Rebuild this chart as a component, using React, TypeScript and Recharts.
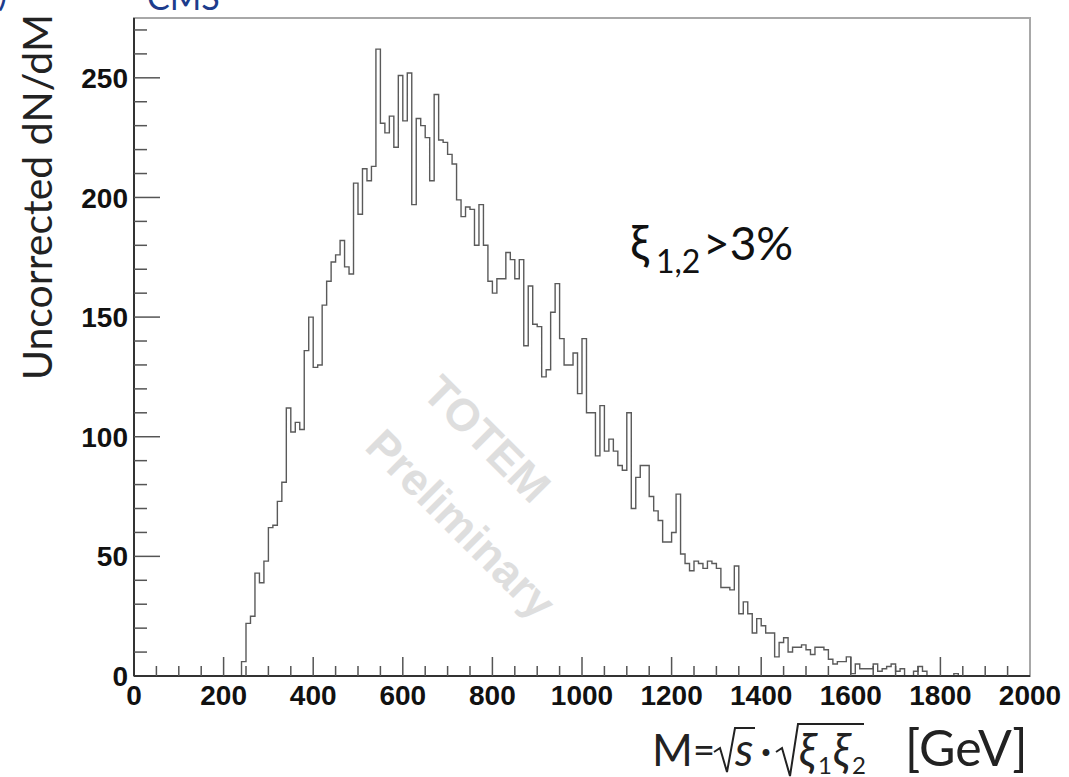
import { LineChart, Line, XAxis, YAxis, ReferenceArea } from 'recharts';

// Invariant-mass histogram, 10 GeV bins starting at 240 GeV
const BIN_START = 240;
const BIN_WIDTH = 10;
const counts = [
  6, 22, 25, 43, 39, 48, 62, 63, 73, 81,
  112, 102, 106, 103, 136, 150, 129, 130, 155, 165,
  173, 176, 182, 171, 168, 206, 193, 212, 207, 213,
  262, 231, 227, 234, 221, 251, 232, 252, 197, 233,
  230, 225, 207, 243, 224, 223, 218, 214, 199, 192,
  196, 195, 180, 197, 180, 165, 160, 166, 166, 177,
  174, 166, 174, 138, 163, 147, 146, 125, 128, 152,
  164, 141, 130, 130, 135, 118, 141, 110, 110, 92,
  113, 94, 99, 94, 88, 86, 110, 70, 83, 88,
  88, 75, 69, 65, 56, 56, 60, 76, 51, 47,
  44, 48, 47, 45, 48, 47, 45, 37, 37, 36,
  46, 26, 31, 26, 18, 24, 21, 18, 18, 8,
  14, 16, 10, 12, 12, 13, 11, 9, 12, 12,
  11, 7, 5, 6, 6, 8, 1, 5, 3, 3,
  3, 5, 2, 3, 4, 5, 2, 3, 0, 0,
  2, 4, 2, 0, 0, 0, 0, 0, 0, 1,
  0,
];

const X_MAX = 2000;
const Y_MAX = 275;
const xLabels = [0, 200, 400, 600, 800, 1000, 1200, 1400, 1600, 1800, 2000];
const yLabels = [0, 50, 100, 150, 200, 250];
const X_MINOR = 50;
const Y_MINOR = 10;

const xTicks: number[] = [];
for (let v = 0; v <= X_MAX; v += X_MINOR) xTicks.push(v);
const yTicks: number[] = [];
for (let v = 0; v < Y_MAX; v += Y_MINOR) yTicks.push(v);

// step outline: start on the axis, rise at the first bin, drop back at the end
const data = [
  { m: 0, n: 0 },
  ...counts.map((n, i) => ({ m: BIN_START + i * BIN_WIDTH, n })),
  { m: BIN_START + counts.length * BIN_WIDTH, n: 0 },
  { m: X_MAX, n: 0 },
];

const W = 1069;
const H = 777;
const Y_AXIS_W = 60;
const X_AXIS_H = 40;
const PLOT_LEFT = 134;
const PLOT_BOTTOM = 676;
const margin = { top: 18, right: 39, bottom: H - PLOT_BOTTOM - X_AXIS_H, left: PLOT_LEFT - Y_AXIS_W };

const labelFont = { fontFamily: 'Liberation Sans, Arial, sans-serif', fontWeight: 700, fontSize: 28, fill: '#111' };
const titleFont = 'Lato, "Open Sans", sans-serif';

function YTick(props: any) {
  const { y, payload } = props;
  const v = payload.value as number;
  const major = yLabels.includes(v);
  return (
    <g>
      {v > 0 && (
        <line x1={PLOT_LEFT} x2={PLOT_LEFT + (major ? 26 : 13)} y1={y} y2={y} stroke="#555" strokeWidth={1.5} />
      )}
      {major && (
        <text x={PLOT_LEFT - 6} y={y} dy="0.36em" textAnchor="end" {...labelFont}>
          {v}
        </text>
      )}
    </g>
  );
}

function XTick(props: any) {
  const { x, payload } = props;
  const v = payload.value as number;
  const major = xLabels.includes(v);
  return (
    <g>
      {v > 0 && v < X_MAX && (
        <line x1={x} x2={x} y1={PLOT_BOTTOM} y2={PLOT_BOTTOM - (major ? 19 : 10)} stroke="#555" strokeWidth={1.5} />
      )}
      {major && (
        <text x={x} y={PLOT_BOTTOM + 29} textAnchor="middle" {...labelFont}>
          {v}
        </text>
      )}
    </g>
  );
}

function Decorations() {
  return (
    <svg width={W} height={H} style={{ position: 'absolute', left: 0, top: 0 }}>
      {/* header remnants */}
      <text x={147} y={10} fontFamily={titleFont} fontSize={34} fill="#1d3c8c">CMS</text>
      <text x={-2} y={6} fontFamily={titleFont} fontSize={34} fill="#1d3c8c">)</text>

      {/* y title */}
      <text
        transform="translate(52,197) rotate(-90)"
        textAnchor="middle"
        fontFamily={titleFont}
        fontSize={41}
        fill="#222"
      >
        Uncorrected dN/dM
      </text>

      {/* watermark */}
      <g fontFamily="Liberation Sans, Arial, sans-serif" fontWeight={700} fontSize={45} fill="#dedede" textAnchor="middle">
        <text transform="translate(476,450) rotate(45)">TOTEM</text>
        <text transform="translate(450,535) rotate(45)">Preliminary</text>
      </g>

      {/* selection cut */}
      <g fontFamily={titleFont} fill="#111">
        <text x={630} y={260} fontSize={48}>ξ</text>
        <text x={656} y={273} fontSize={32}>1,2</text>
        <text x={703} y={260} fontSize={46}>&gt;3%</text>
      </g>

      {/* x title */}
      <g fontFamily={titleFont} fill="#222" fontSize={46}>
        <text x={652} y={766} fontSize={44}>M</text>
        <text x={693} y={764} fontSize={38}>=</text>
        <path d="M714,752 L720,748 L727,772 L735,728 L755,728" fill="none" stroke="#222" strokeWidth={2} />
        <text x={735} y={766} fontStyle="italic">s</text>
        <text x={760} y={766}>·</text>
        <path d="M776,752 L782,748 L790,776 L798,724 L864,724" fill="none" stroke="#222" strokeWidth={2} />
        <text x={799} y={766} fontStyle="italic">ξ</text>
        <text x={818} y={774} fontSize={24}>1</text>
        <text x={833} y={766} fontStyle="italic">ξ</text>
        <text x={852} y={774} fontSize={24}>2</text>
        <text x={905} y={766} fontSize={50}>[GeV]</text>
      </g>
    </svg>
  );
}

export default function App() {
  return (
    <div style={{ position: 'absolute', left: 0, top: 0, width: W, height: H, background: '#fff' }}>
      <Decorations />
      <div style={{ position: 'absolute', left: 0, top: 0 }}>
        <LineChart width={W} height={H} data={data} margin={margin}>
          <ReferenceArea
            x1={0}
            x2={X_MAX}
            y1={0}
            y2={Y_MAX}
            fill="none"
            stroke="#a8a8a8"
            strokeWidth={2}
            ifOverflow="visible"
          />
          <XAxis
            dataKey="m"
            type="number"
            domain={[0, X_MAX]}
            ticks={xTicks}
            interval={0}
            height={X_AXIS_H}
            tickLine={false}
            axisLine={{ stroke: '#333', strokeWidth: 2 }}
            tick={XTick}
          />
          <YAxis
            type="number"
            domain={[0, Y_MAX]}
            ticks={yTicks}
            interval={0}
            width={Y_AXIS_W}
            tickLine={false}
            axisLine={{ stroke: '#333', strokeWidth: 2 }}
            tick={YTick}
          />
          <Line
            type="stepAfter"
            dataKey="n"
            stroke="#5a5a5a"
            strokeWidth={1.4}
            dot={false}
            isAnimationActive={false}
          />
        </LineChart>
      </div>
    </div>
  );
}
